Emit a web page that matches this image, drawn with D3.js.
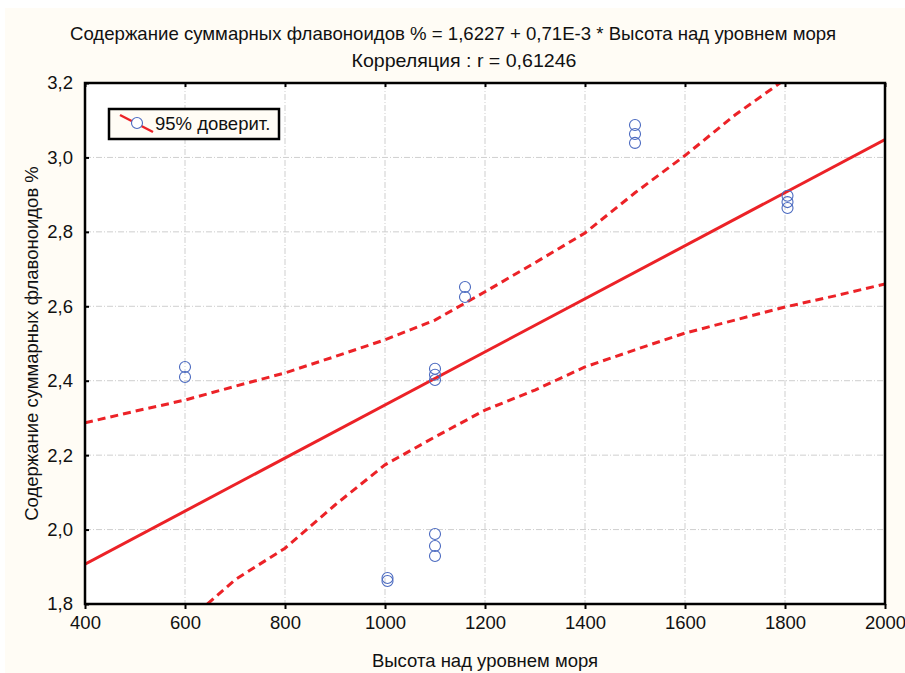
<!DOCTYPE html>
<html>
<head>
<meta charset="utf-8">
<script src="https://cdn.jsdelivr.net/npm/d3@7"></script>
<style>
  body { margin: 0; background: #fff; }
  text { font-family: "Liberation Sans", Arial, sans-serif; fill: #111; }
</style>
</head>
<body>
<div id="chart"></div>
<script>
// scatter points (altitude, flavonoid %)
var pointsX = [600, 600, 1005, 1005, 1100, 1100, 1100, 1100, 1100, 1100, 1160, 1160, 1500, 1500, 1500, 1805, 1805, 1805];
var pointsY = [2.437, 2.41, 1.870, 1.862, 1.988, 1.956, 1.929, 2.432, 2.416, 2.402, 2.652, 2.625, 3.087, 3.063, 3.039, 2.897, 2.880, 2.864];

// regression line, read at the plot edges
var fitX = [400, 2000];
var fitY = [1.907, 3.048];

// 95% confidence bands
var upperX = [400, 500, 600, 700, 800, 900, 1000, 1100, 1200, 1300, 1400, 1500, 1600, 1700, 1790];
var upperY = [2.287, 2.318, 2.348, 2.385, 2.421, 2.465, 2.510, 2.563, 2.639, 2.717, 2.797, 2.905, 3.005, 3.114, 3.2];
var lowerX = [645, 700, 800, 900, 1000, 1100, 1200, 1300, 1400, 1500, 1600, 1700, 1800, 1900, 2000];
var lowerY = [1.8, 1.865, 1.950, 2.066, 2.174, 2.249, 2.321, 2.375, 2.437, 2.483, 2.528, 2.563, 2.598, 2.628, 2.660];

var xTicks = [400, 600, 800, 1000, 1200, 1400, 1600, 1800, 2000];
var yTicks = [1.8, 2.0, 2.2, 2.4, 2.6, 2.8, 3.0, 3.2];

var title1 = "Содержание суммарных флавоноидов % = 1,6227 + 0,71E-3 * Высота над уровнем моря";
var title2 = "Корреляция : r = 0,61246";
var xTitle = "Высота над уровнем моря";
var yTitle = "Содержание суммарных флавоноидов %";
var legendText = "95% доверит.";

var W = 905, H = 673;
var margin = {top: 83, right: 20, bottom: 69, left: 85},
    width = 885 - margin.left,
    height = 604 - margin.top;

var red = "#ec2227", blue = "#4b6ac0";
var fs = "18.5px";

var svg = d3.select("#chart").append("svg")
    .attr("width", W)
    .attr("height", H);

svg.append("rect")
    .attr("x", 5).attr("y", 8)
    .attr("width", W - 5).attr("height", H - 8)
    .attr("fill", "#fffcf5");

var x = d3.scaleLinear().domain([400, 2000]).range([0, width]);
var y = d3.scaleLinear().domain([1.8, 3.2]).range([height, 0]);

var fmt = function(d) { return d3.format(".1f")(d).replace(".", ","); };

svg.append("text")
    .attr("x", 453).attr("y", 40)
    .attr("text-anchor", "middle")
    .style("font-size", fs)
    .attr("textLength", 766)
    .attr("lengthAdjust", "spacingAndGlyphs")
    .text(title1);

svg.append("text")
    .attr("x", 464).attr("y", 67)
    .attr("text-anchor", "middle")
    .style("font-size", fs)
    .attr("textLength", 225)
    .attr("lengthAdjust", "spacingAndGlyphs")
    .text(title2);

var g = svg.append("g")
    .attr("transform", "translate(" + margin.left + "," + margin.top + ")");

g.append("rect")
    .attr("width", width).attr("height", height)
    .attr("fill", "#fff");

g.append("clipPath").attr("id", "clip")
    .append("rect").attr("width", width).attr("height", height);

// grid
g.append("g").selectAll("line")
    .data(xTicks.slice(1, -1))
    .enter().append("line")
    .attr("x1", function(d) { return x(d); })
    .attr("x2", function(d) { return x(d); })
    .attr("y1", 0).attr("y2", height)
    .attr("stroke", "#cfcfcf")
    .attr("stroke-dasharray", "6,2,1,2");

g.append("g").selectAll("line")
    .data(yTicks.slice(1, -1))
    .enter().append("line")
    .attr("y1", function(d) { return y(d); })
    .attr("y2", function(d) { return y(d); })
    .attr("x1", 0).attr("x2", width)
    .attr("stroke", "#cfcfcf")
    .attr("stroke-dasharray", "6,2,1,2");

var line = d3.line()
    .x(function(d) { return x(d[0]); })
    .y(function(d) { return y(d[1]); });

var plot = g.append("g").attr("clip-path", "url(#clip)");

plot.append("path")
    .datum(d3.zip(fitX, fitY))
    .attr("d", line)
    .attr("fill", "none")
    .attr("stroke", red)
    .attr("stroke-width", 3);

[[upperX, upperY], [lowerX, lowerY]].forEach(function(b) {
    plot.append("path")
        .datum(d3.zip(b[0], b[1]))
        .attr("d", line)
        .attr("fill", "none")
        .attr("stroke", red)
        .attr("stroke-width", 3)
        .attr("stroke-dasharray", "8,5");
});

plot.selectAll("circle")
    .data(d3.zip(pointsX, pointsY))
    .enter().append("circle")
    .attr("cx", function(d) { return x(d[0]); })
    .attr("cy", function(d) { return y(d[1]); })
    .attr("r", 5.5)
    .attr("fill", "none")
    .attr("stroke", blue)
    .attr("stroke-width", 1.1);

// axes
var xAxis = g.append("g")
    .attr("transform", "translate(0," + height + ")")
    .call(d3.axisBottom(x).tickValues(xTicks).tickSize(5).tickPadding(7).tickFormat(d3.format("d")));
var yAxis = g.append("g")
    .call(d3.axisLeft(y).tickValues(yTicks).tickSize(-4).tickPadding(12).tickFormat(fmt));
g.append("g")
    .call(d3.axisTop(x).tickValues(xTicks).tickSize(-4).tickFormat(""));

[xAxis, yAxis].forEach(function(a) {
    a.selectAll("text").style("font-size", fs).attr("fill", "#111")
        .style("font-family", "Liberation Sans, Arial, sans-serif");
});
g.selectAll(".domain").remove();
g.selectAll(".tick line").attr("stroke", "#000").attr("stroke-width", 2);

g.append("rect")
    .attr("width", width).attr("height", height)
    .attr("fill", "none")
    .attr("stroke", "#000")
    .attr("stroke-width", 2.5);

svg.append("text")
    .attr("x", margin.left + width / 2).attr("y", 667)
    .attr("text-anchor", "middle")
    .style("font-size", fs)
    .text(xTitle);

svg.append("text")
    .attr("transform", "translate(38," + (margin.top + height / 2) + ") rotate(-90)")
    .attr("text-anchor", "middle")
    .style("font-size", fs)
    .text(yTitle);

// legend
var lg = svg.append("g").attr("transform", "translate(109,109)");
lg.append("rect")
    .attr("width", 170).attr("height", 30)
    .attr("fill", "#fffcf5")
    .attr("stroke", "#000")
    .attr("stroke-width", 2.5);
lg.append("line")
    .attr("x1", 11).attr("y1", 6).attr("x2", 44).attr("y2", 23)
    .attr("stroke", red).attr("stroke-width", 2.5);
lg.append("circle")
    .attr("cx", 28).attr("cy", 14).attr("r", 5.5)
    .attr("fill", "#fff").attr("stroke", blue).attr("stroke-width", 1.1);
lg.append("text")
    .attr("x", 46).attr("y", 21)
    .style("font-size", fs)
    .text(legendText);
</script>
</body>
</html>
